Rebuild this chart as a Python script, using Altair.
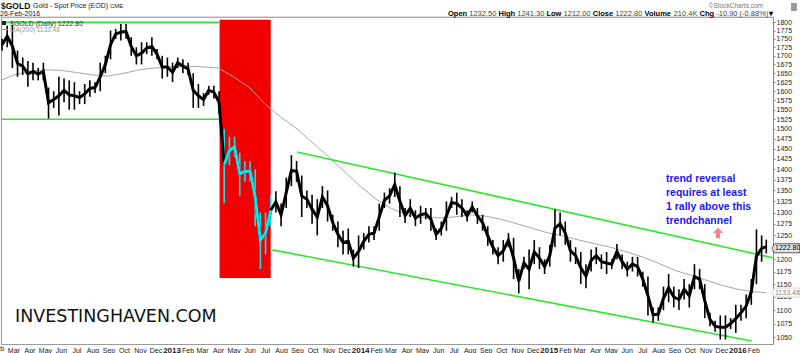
import altair as alt
import pandas as pd
import numpy as np

# ---------------- data ----------------
sample_start = "2012-02-08"          # 10-day sampling windows
last_date = "2016-02-26"
low = [
    1715, 1725, 1665, 1640, 1645, 1612, 1630, 1630, 1630, 1527,
    1555, 1535, 1570, 1550, 1550, 1565, 1565, 1585, 1595, 1600,
    1650, 1690, 1750, 1745, 1750, 1700, 1675, 1675, 1705, 1700,
    1690, 1635, 1640, 1625, 1665, 1650, 1645, 1555, 1555, 1560,
    1590, 1580, 1540, 1321, 1410, 1430, 1338, 1370, 1370, 1270,
    1180, 1210, 1270, 1300, 1270, 1310, 1360, 1370, 1290, 1310,
    1275, 1250, 1310, 1280, 1260, 1225, 1210, 1210, 1185, 1182,
    1220, 1235, 1240, 1260, 1310, 1320, 1335, 1290, 1277, 1290,
    1270, 1275, 1285, 1260, 1240, 1250, 1260, 1310, 1295, 1290,
    1280, 1300, 1275, 1260, 1228, 1210, 1190, 1195, 1225, 1160,
    1132, 1180, 1140, 1190, 1180, 1170, 1185, 1225, 1250, 1230,
    1195, 1190, 1150, 1142, 1175, 1190, 1180, 1170, 1180, 1200,
    1180, 1165, 1175, 1165, 1145, 1090, 1077, 1080, 1100, 1115,
    1105, 1100, 1120, 1105, 1140, 1140, 1085, 1070, 1060, 1046,
    1046, 1065, 1058, 1080, 1085, 1110, 1150, 1195, 1212]
high = [
    1750, 1790, 1792, 1715, 1695, 1685, 1680, 1665, 1680, 1610,
    1600, 1640, 1635, 1630, 1625, 1600, 1620, 1630, 1625, 1680,
    1700, 1775, 1780, 1795, 1795, 1755, 1725, 1740, 1740, 1755,
    1720, 1700, 1695, 1680, 1695, 1690, 1680, 1650, 1620, 1595,
    1615, 1615, 1600, 1500, 1480, 1480, 1440, 1420, 1420, 1400,
    1300, 1300, 1340, 1348, 1320, 1380, 1434, 1420, 1385, 1350,
    1340, 1330, 1360, 1350, 1295, 1280, 1260, 1265, 1220, 1250,
    1255, 1270, 1270, 1320, 1345, 1355, 1392, 1360, 1310, 1330,
    1305, 1315, 1310, 1310, 1265, 1280, 1325, 1335, 1345, 1330,
    1305, 1325, 1310, 1295, 1270, 1240, 1225, 1240, 1255, 1245,
    1180, 1205, 1220, 1240, 1225, 1200, 1230, 1307, 1300, 1280,
    1240, 1225, 1215, 1190, 1220, 1225, 1210, 1215, 1200, 1232,
    1210, 1195, 1205, 1205, 1175, 1165, 1105, 1105, 1145, 1170,
    1145, 1140, 1160, 1150, 1190, 1180, 1150, 1095, 1080, 1090,
    1090, 1085, 1110, 1110, 1130, 1160, 1263, 1250, 1241]

ma_dates = [
    "2012-02-06", "2012-03-01", "2012-04-01", "2012-05-01", "2012-06-01", "2012-07-01",
    "2012-08-01", "2012-09-01", "2012-10-01", "2012-11-01", "2012-12-01", "2013-01-01",
    "2013-02-01", "2013-03-01", "2013-04-01", "2013-05-01", "2013-06-01", "2013-07-01",
    "2013-08-01", "2013-09-01", "2013-10-01", "2013-11-01", "2013-12-01", "2014-01-01",
    "2014-02-01", "2014-03-01", "2014-04-01", "2014-05-01", "2014-06-01", "2014-07-01",
    "2014-08-01", "2014-09-01", "2014-10-01", "2014-11-01", "2014-12-01", "2015-01-01",
    "2015-02-01", "2015-03-01", "2015-04-01", "2015-05-01", "2015-06-01", "2015-07-01",
    "2015-08-01", "2015-09-01", "2015-10-01", "2015-11-01", "2015-12-01", "2016-01-01",
    "2016-02-01", "2016-02-26"]
ma_values = [
    1630, 1645, 1655, 1660, 1658, 1652, 1645, 1642, 1650, 1660, 1665, 1668,
    1670, 1668, 1665, 1640, 1610, 1565, 1530, 1500, 1465, 1430, 1395, 1360,
    1330, 1310, 1295, 1290, 1288, 1290, 1295, 1292, 1285, 1275, 1265, 1255,
    1248, 1240, 1232, 1225, 1215, 1205, 1192, 1178, 1168, 1158, 1148, 1140,
    1135, 1133.48]

green_start_date = ["2012-02-06", "2012-02-06", "2013-09-01", "2013-07-15"]
green_end_date = ["2013-04-04", "2013-04-03", "2016-03-10", "2016-01-29"]
green_start_price = [1800, 1525, 1442, 1219.5]
green_end_price = [1800, 1525, 1203, 1043.5]

box_start, box_end = "2013-04-04", "2013-07-12"
box_top, box_bottom = 1808, 1162

last_close = 1222.80
ma_last = 1133.48
price_ticks = [v for v in range(1050, 1801, 25) if v != 1225]
quote_parts = [("Open", True), ("1232.50", False), ("High", True), ("1241.30", False),
               ("Low", True), ("1212.00", False), ("Close", True), ("1222.80", False),
               ("Volume", True), ("210.4K", False), ("Chg", True), ("-10.90 (-0.88%)", False),
               ("\u25be", True)]
annotation = ["trend reversal", "requires at least", "1 rally above this", "trendchannel"]

# ---------------- tables ----------------
dates = list(pd.date_range(sample_start, periods=len(low) - 1, freq="10D")) + [pd.Timestamp(last_date)]
price = pd.DataFrame({"date": dates, "low": low, "high": high})
in_box = (price["date"] >= pd.Timestamp(box_start)) & (price["date"] <= pd.Timestamp(box_end))
price["seg"] = np.where(in_box, "cyan", "black")

ma = pd.DataFrame({"date": pd.to_datetime(ma_dates), "ma": ma_values})
green = pd.DataFrame({"d0": pd.to_datetime(green_start_date), "d1": pd.to_datetime(green_end_date),
                      "p0": green_start_price, "p1": green_end_price})
box = pd.DataFrame({"d0": [pd.Timestamp(box_start)], "d1": [pd.Timestamp(box_end)],
                    "p0": [box_top], "p1": [box_bottom]})
tags = pd.DataFrame({"v": [last_close, ma_last], "kind": ["close", "ma"]})
one = pd.DataFrame({"a": [0]})

FONT = "Liberation Sans"
PAD_L, PAD_T = 1, 17
W, H = 772, 327
CYAN = "#12e2ee"

xscale = alt.Scale(domain=[alt.DateTime(year=2012, month=2, date=6),
                           alt.DateTime(year=2016, month=3, date=10)])
yscale = alt.Scale(type="log", domain=[1038, 1816.7], nice=False, zero=False)

x_axis = alt.Axis(
    title=None, grid=False, ticks=False, domain=False,
    tickCount={"interval": "month", "step": 1},
    labelExpr=("datum.value > datetime(2016, 1, 15) ? '' : "
               "(month(datum.value) == 0 ? timeFormat(datum.value, '%Y') : timeFormat(datum.value, '%b'))"),
    labelFontSize=alt.condition("month(datum.value) == 0", alt.value(8), alt.value(7)),
    labelFontWeight=alt.condition("month(datum.value) == 0", alt.value("bold"), alt.value("normal")),
    labelColor="#222", labelFont=FONT, labelPadding=2, labelOverlap=False,
    labelAlign="center", labelBound=False, labelFlush=False)
y_axis = alt.Axis(
    orient="right", values=price_ticks, format="d", title=None, grid=False,
    tickSize=2, tickColor="#888", domainColor="#888", labelFontSize=7, labelColor="#222",
    labelPadding=1, labelFont=FONT)

X = alt.X("date:T", scale=xscale, axis=x_axis)

red = alt.Chart(box).mark_rect(color="#f20000").encode(
    x=alt.X("d0:T", scale=xscale, axis=x_axis), x2="d1:T",
    y=alt.Y("p0:Q", scale=yscale, axis=y_axis), y2="p1:Q")

ma_line = alt.Chart(ma).mark_line(color="#a8a8a8", strokeWidth=1).encode(
    x=X, y=alt.Y("ma:Q", scale=yscale, axis=y_axis))

greens = alt.Chart(green).mark_rule(color="#2ee82e", strokeWidth=1.6).encode(
    x=alt.X("d0:T", scale=xscale, axis=x_axis), x2="d1:T",
    y=alt.Y("p0:Q", scale=yscale, axis=y_axis), y2="p1:Q")

seg_color = alt.Color("seg:N", scale=alt.Scale(domain=["black", "cyan"], range=["#000000", CYAN]),
                      legend=None)
spikes = alt.Chart(price).mark_rule(strokeWidth=1.6).encode(
    x=X, y=alt.Y("low:Q", scale=yscale, axis=y_axis), y2="high:Q", color=seg_color)
mid_black = alt.Chart(price).transform_calculate(mid="(datum.low + datum.high) / 2").mark_line(
    color="#000", strokeWidth=3).encode(x=X, y=alt.Y("mid:Q", scale=yscale, axis=y_axis))
mid_cyan = alt.Chart(price).transform_filter("datum.seg == 'cyan'").transform_calculate(
    mid="(datum.low + datum.high) / 2").mark_line(color=CYAN, strokeWidth=3).encode(
    x=X, y=alt.Y("mid:Q", scale=yscale, axis=y_axis))


def txt(text, X0, Y0, size, color="#222", weight="normal", align="left", font=FONT, baseline="alphabetic"):
    return alt.Chart(one).mark_text(
        text=text, fontSize=size, color=color, fontWeight=weight, align=align,
        font=font, baseline=baseline).encode(x=alt.value(X0 - PAD_L), y=alt.value(Y0 - PAD_T))


texts = [
    txt("$GOLD", 1, 8.5, 8.5, "#111", "bold"),
    txt("Gold - Spot Price (EOD)", 33, 8, 7, "#222"),
    txt("CME", 110, 8, 6, "#222"),
    txt("26-Feb-2016", 0, 16, 7, "#222"),
    txt("\u00a9StockCharts.com", 763, 8, 6.5, "#777", align="right"),
    txt("$GOLD (Daily) " + f"{last_close:.2f}", 10, 25.5, 7, "#333"),
    txt("MA(200) " + f"{ma_last:.2f}", 10, 32, 6.5, "#999"),
    txt("INVESTINGHAVEN.COM", 15, 322, 17.5, "#111", font="DejaVu Sans"),
    txt("Feb", -2, 351, 7, "#222", align="center"),
]
# quote line
qx = 448
widths_em = {"Open": 2.556, "High": 2.222, "Low": 2.0, "Close": 2.723, "Volume": 3.612, "Chg": 1.944,
             "\u25be": 0.6}
for part, bold in quote_parts:
    texts.append(txt(part, qx, 16, 7.5, "#000" if bold else "#444", "bold" if bold else "normal"))
    if part in widths_em:
        w = widths_em[part]
    else:
        w = sum(0.278 if c in ".-() " else (0.889 if c == "%" else (0.667 if c == "K" else 0.556)) for c in part)
    qx += w * 7.5 + 2.1
for i, line in enumerate(annotation):
    texts.append(txt(line, 666, 182 + i * 14, 10.5, "#1a1af2", "bold"))

legend_icon = alt.Chart(one).mark_rect(color="#222").encode(
    x=alt.value(2 - PAD_L), x2=alt.value(6 - PAD_L), y=alt.value(21 - PAD_T), y2=alt.value(25 - PAD_T))
legend_dash = alt.Chart(one).mark_rule(color="#999", strokeWidth=1).encode(
    x=alt.value(2 - PAD_L), x2=alt.value(8 - PAD_L), y=alt.value(29.5 - PAD_T))
trash = alt.Chart(one).mark_rect(color="#9a9a9a").encode(
    x=alt.value(791 - PAD_L), x2=alt.value(797 - PAD_L), y=alt.value(3 - PAD_T), y2=alt.value(11 - PAD_T))
header_line = alt.Chart(one).mark_rule(color="#bbb", strokeWidth=1).encode(
    x=alt.value(-1), x2=alt.value(W), y=alt.value(0))

arrow_path = "M0,-1 L1,0 L0.4,0 L0.4,1 L-0.4,1 L-0.4,0 L-1,0 Z"
arrow = alt.Chart(one).mark_point(shape=arrow_path, filled=True, size=110, color="#f08a8a", opacity=1).encode(
    x=alt.value(718 - PAD_L), y=alt.value(233 - PAD_T))

tag_path = "M-3.25,0 L-2.7,-1 L3,-1 L3,1 L-2.7,1 Z"
tag_box = alt.Chart(tags).mark_point(shape=tag_path, filled=True, size=81, opacity=1, strokeWidth=0.8).encode(
    x=alt.value(786.5 - PAD_L), y=alt.Y("v:Q", scale=yscale, axis=y_axis),
    fill=alt.Fill("kind:N", scale=alt.Scale(domain=["close", "ma"], range=["#e4e4e4", "#ffffff"]), legend=None),
    stroke=alt.Stroke("kind:N", scale=alt.Scale(domain=["close", "ma"], range=["#333333", "#cccccc"]),
                      legend=None))
tag_text = alt.Chart(tags).transform_calculate(lab="format(datum.v, '.2f')").mark_text(
    align="left", baseline="middle", fontSize=7, font=FONT).encode(
    x=alt.value(775 - PAD_L), y=alt.Y("v:Q", scale=yscale, axis=y_axis), text="lab:N",
    color=alt.Color("kind:N", scale=alt.Scale(domain=["close", "ma"], range=["#000000", "#888888"]),
                    legend=None))

chart = alt.layer(
    red, ma_line, greens, spikes, mid_black, mid_cyan, legend_icon, legend_dash, trash, header_line,
    arrow, tag_box, tag_text, *texts
).resolve_scale(color="independent").properties(
    width=W, height=H,
    autosize=alt.AutoSizeParams(type="none"),
    padding={"left": PAD_L, "top": PAD_T, "right": 800 - PAD_L - W, "bottom": 353 - PAD_T - H},
    background="white",
).configure_view(stroke="#9a9a9a", strokeWidth=1)

chart.save("out.html", embed_options={"renderer": "svg", "actions": False})
